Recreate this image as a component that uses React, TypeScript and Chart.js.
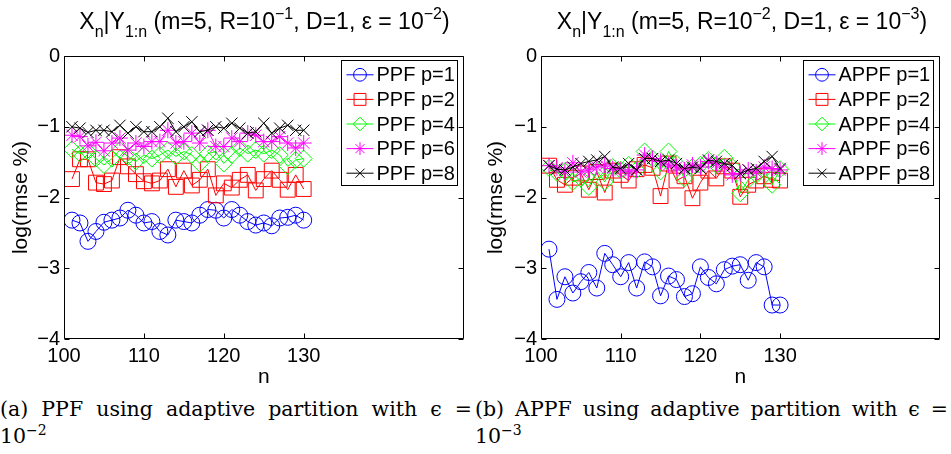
import React, { useEffect, useRef } from 'react';
import { Chart, registerables } from 'chart.js';
import { drawPoint } from 'chart.js/helpers';

Chart.register(...registerables);

// ---------------- data ----------------
const nValues = [101, 102, 103, 104, 105, 106, 107, 108, 109, 110, 111, 112, 113, 114, 115, 116, 117, 118, 119, 120, 121, 122, 123, 124, 125, 126, 127, 128, 129, 130];
const xTickValues = [100, 110, 120, 130];
const yTickValues = [0, -1, -2, -3, -4];
const pLabels = ['p=1', 'p=2', 'p=4', 'p=6', 'p=8'];

// (a) PPF, epsilon = 1e-2
const ppfP1 = [-2.32, -2.36, -2.62, -2.48, -2.35, -2.32, -2.29, -2.18, -2.25, -2.36, -2.34, -2.48, -2.53, -2.32, -2.34, -2.36, -2.25, -2.17, -2.18, -2.29, -2.17, -2.25, -2.34, -2.39, -2.36, -2.40, -2.29, -2.28, -2.25, -2.32];
const ppfP2 = [-1.74, -1.46, -1.46, -1.79, -1.81, -1.76, -1.43, -1.56, -1.67, -1.77, -1.80, -1.76, -1.60, -1.85, -1.62, -1.83, -1.75, -1.60, -1.97, -1.80, -1.86, -1.75, -1.68, -1.90, -1.74, -1.62, -1.75, -1.89, -1.68, -1.88];
const ppfP4 = [-1.32, -1.38, -1.35, -1.45, -1.54, -1.45, -1.33, -1.42, -1.49, -1.40, -1.45, -1.40, -1.33, -1.42, -1.35, -1.40, -1.52, -1.38, -1.35, -1.52, -1.40, -1.30, -1.38, -1.33, -1.38, -1.33, -1.40, -1.56, -1.47, -1.45];
const ppfP6 = [-1.12, -1.14, -1.27, -1.22, -1.34, -1.23, -1.16, -1.33, -1.23, -1.28, -1.21, -1.21, -1.05, -1.23, -1.21, -1.09, -1.23, -1.05, -1.28, -1.28, -1.16, -1.21, -1.09, -1.12, -1.21, -1.21, -1.14, -1.23, -1.30, -1.23];
const ppfP8 = [-1.00, -1.02, -1.08, -1.05, -1.05, -1.07, -0.98, -1.09, -1.00, -1.07, -1.07, -1.00, -0.88, -1.07, -1.00, -0.93, -1.07, -1.05, -1.00, -1.02, -0.95, -1.02, -1.09, -1.07, -0.95, -1.09, -1.02, -0.98, -1.05, -1.05];

// (b) APPF, epsilon = 1e-3
const appfP1 = [-2.73, -3.44, -3.12, -3.35, -3.19, -3.06, -3.28, -2.79, -2.95, -3.12, -2.92, -3.28, -2.91, -2.98, -3.39, -3.11, -3.16, -3.40, -3.36, -2.98, -3.13, -3.22, -3.02, -2.97, -2.95, -3.17, -2.92, -2.98, -3.52, -3.52];
const appfP2 = [-1.55, -1.75, -1.82, -1.72, -1.66, -1.89, -1.64, -1.93, -1.62, -1.68, -1.76, -1.60, -1.54, -1.58, -1.98, -1.52, -1.76, -1.70, -2.01, -1.79, -1.62, -1.73, -1.56, -1.62, -1.99, -1.82, -1.76, -1.70, -1.75, -1.76];
const appfP4 = [-1.58, -1.65, -1.63, -1.78, -1.73, -1.85, -1.62, -1.78, -1.57, -1.61, -1.54, -1.61, -1.35, -1.45, -1.63, -1.35, -1.52, -1.73, -1.57, -1.54, -1.47, -1.54, -1.44, -1.57, -1.94, -1.75, -1.68, -1.61, -1.82, -1.60];
const appfP6 = [-1.55, -1.58, -1.64, -1.51, -1.64, -1.61, -1.57, -1.54, -1.59, -1.61, -1.64, -1.61, -1.40, -1.45, -1.49, -1.54, -1.57, -1.61, -1.54, -1.57, -1.49, -1.52, -1.57, -1.68, -1.66, -1.61, -1.64, -1.57, -1.59, -1.61];
const appfP8 = [-1.55, -1.60, -1.61, -1.57, -1.52, -1.49, -1.47, -1.42, -1.57, -1.59, -1.52, -1.61, -1.45, -1.45, -1.49, -1.47, -1.52, -1.59, -1.57, -1.59, -1.47, -1.49, -1.52, -1.55, -1.66, -1.61, -1.59, -1.49, -1.42, -1.59];

// ---------------- styles ----------------
const seriesColors = ['#0000ff', '#ff0000', '#00ff00', '#ff00ff', '#000000'];
const markerStyles = ['circle', 'rect', 'rectRot', 'star', 'crossRot'];
const markerRadii = [8, 10.5, 8.5, 8, 8];
const SANS = '"Liberation Sans", Arial, Helvetica, sans-serif';
const SERIF = '"DejaVu Serif", "Liberation Serif", serif';

const fmtTick = (v: number) => (v < 0 ? '\u2212' + Math.abs(v) : String(v));

const framePlugin = {
  id: 'matlabFrame',
  afterDatasetsDraw(chart: any) {
    const { ctx, chartArea } = chart;
    const xs = chart.scales.x;
    const ys = chart.scales.y;
    const L = Math.round(chartArea.left) + 0.5;
    const R = Math.round(chartArea.right) - 0.5;
    const T = Math.round(chartArea.top) + 0.5;
    const B = Math.round(chartArea.bottom) - 0.5;
    ctx.save();
    ctx.strokeStyle = '#000';
    ctx.lineWidth = 1;
    ctx.beginPath();
    ctx.rect(L, T, R - L, B - T);
    const tl = 5;
    xTickValues.forEach((v) => {
      const px = Math.round(xs.getPixelForValue(v)) + 0.5;
      ctx.moveTo(px, B);
      ctx.lineTo(px, B - tl);
      ctx.moveTo(px, T);
      ctx.lineTo(px, T + tl);
    });
    yTickValues.forEach((v) => {
      const py = Math.round(ys.getPixelForValue(v)) + 0.5;
      ctx.moveTo(L, py);
      ctx.lineTo(L + tl, py);
      ctx.moveTo(R, py);
      ctx.lineTo(R - tl, py);
    });
    ctx.stroke();
    ctx.restore();
  },
};

const legendPlugin = {
  id: 'matlabLegend',
  afterDraw(chart: any) {
    const { ctx, chartArea } = chart;
    const ds = chart.data.datasets;
    ctx.save();
    ctx.font = `20px ${SANS}`;
    let maxW = 0;
    ds.forEach((d: any) => {
      maxW = Math.max(maxW, ctx.measureText(d.label).width);
    });
    const rowH = 24.6;
    const w = Math.round(35 + maxW + 3);
    const h = Math.round(rowH * ds.length + 2);
    const bx = Math.round(chartArea.right - 7 - w) + 0.5;
    const by = Math.round(chartArea.top + 4) + 0.5;
    ctx.fillStyle = '#fff';
    ctx.fillRect(bx, by, w, h);
    ctx.strokeStyle = '#000';
    ctx.lineWidth = 1;
    ctx.strokeRect(bx, by, w, h);
    ds.forEach((d: any, i: number) => {
      const cy = by + 2 + rowH * (i + 0.5);
      ctx.strokeStyle = d.borderColor;
      ctx.lineWidth = 1;
      ctx.beginPath();
      ctx.moveTo(bx + 5, cy);
      ctx.lineTo(bx + 32, cy);
      ctx.stroke();
      ctx.fillStyle = 'rgba(0,0,0,0)';
      ctx.strokeStyle = d.borderColor;
      drawPoint(ctx, { pointStyle: d.pointStyle, radius: d.pointRadius * 0.8, rotation: 0, borderWidth: 1 } as any, bx + 18.5, cy);
      ctx.fillStyle = '#000';
      ctx.textBaseline = 'middle';
      ctx.textAlign = 'left';
      ctx.fillText(d.label, bx + 35, cy + 1);
    });
    ctx.restore();
  },
};

type PanelProps = {
  left: number;
  width: number;
  prefix: string;
  series: number[][];
  yAxisWidth: number;
  padRight: number;
};

const CANVAS_H = 392;

function Panel({ left, width, prefix, series, yAxisWidth, padRight }: PanelProps) {
  const ref = useRef<HTMLCanvasElement | null>(null);
  useEffect(() => {
    if (!ref.current) return;
    const chart = new Chart(ref.current, {
      type: 'line',
      data: {
        datasets: series.map((vals, i) => ({
          label: `${prefix} ${pLabels[i]}`,
          data: nValues.map((n, k) => ({ x: n, y: vals[k] })),
          borderColor: seriesColors[i],
          backgroundColor: 'rgba(0,0,0,0)',
          borderWidth: 1,
          pointStyle: markerStyles[i] as any,
          pointRadius: markerRadii[i],
          pointBorderColor: seriesColors[i],
          pointBackgroundColor: 'rgba(0,0,0,0)',
          pointBorderWidth: 1,
          tension: 0,
          fill: false,
          order: series.length - 1 - i,
        })),
      },
      options: {
        animation: false,
        responsive: false,
        maintainAspectRatio: false,
        events: [],
        layout: { padding: { left: 0, right: padRight, top: 56, bottom: 0 } },
        plugins: { legend: { display: false }, tooltip: { enabled: false }, title: { display: false } },
        scales: {
          x: {
            type: 'linear',
            min: 100,
            max: 150,
            grid: { display: false, drawTicks: false },
            border: { display: false },
            afterBuildTicks: (s: any) => {
              s.ticks = xTickValues.map((v) => ({ value: v }));
            },
            afterFit: (s: any) => {
              s.height = CANVAS_H - 339;
            },
            ticks: {
              color: '#000',
              font: { family: SANS, size: 20 },
              padding: 5,
              maxRotation: 0,
              autoSkip: false,
              callback: (v: any) => String(v),
            },
            title: {
              display: true,
              text: 'n',
              color: '#000',
              font: { family: SANS, size: 21 },
              padding: { top: 0, bottom: 2 },
            },
          },
          y: {
            type: 'linear',
            min: -4,
            max: 0,
            grid: { display: false, drawTicks: false },
            border: { display: false },
            afterBuildTicks: (s: any) => {
              s.ticks = yTickValues.map((v) => ({ value: v }));
            },
            afterFit: (s: any) => {
              s.width = yAxisWidth;
            },
            ticks: {
              color: '#000',
              font: { family: SANS, size: 20 },
              padding: 4,
              autoSkip: false,
              callback: (v: any) => fmtTick(Number(v)),
            },
            title: {
              display: true,
              text: 'log(rmse %)',
              color: '#000',
              font: { family: SANS, size: 21 },
              padding: { top: 9, bottom: 0 },
            },
          },
        },
      },
      plugins: [framePlugin, legendPlugin],
    });
    return () => chart.destroy();
  }, []);
  return (
    <canvas
      ref={ref}
      width={width}
      height={CANVAS_H}
      style={{ position: 'absolute', left, top: 0, width, height: CANVAS_H }}
    />
  );
}

const subStyle: React.CSSProperties = { fontSize: 16, position: 'relative', top: 8, lineHeight: 0 };
const supStyle: React.CSSProperties = { fontSize: 16, position: 'relative', top: -10, lineHeight: 0 };

function Title({ left, width, r, eps }: { left: number; width: number; r: string; eps: string }) {
  return (
    <div
      style={{
        position: 'absolute',
        left,
        width,
        top: 10,
        textAlign: 'center',
        fontFamily: SANS,
        fontSize: 23,
        lineHeight: '23px',
        whiteSpace: 'nowrap',
        color: '#000',
      }}
    >
      X<span style={subStyle}>n</span>|Y<span style={subStyle}>1:n</span> (m=5, R=10
      <span style={supStyle}>{r}</span>, D=1, ε = 10<span style={supStyle}>{eps}</span>)
    </div>
  );
}

function Caption({ left, width, first, exp }: { left: number; width: number; first: string; exp: string }) {
  return (
    <div
      style={{
        position: 'absolute',
        left,
        width,
        top: 396,
        fontFamily: SERIF,
        fontSize: 20.5,
        lineHeight: '27px',
        color: '#000',
      }}
    >
      <div style={{ textAlign: 'justify', textAlignLast: 'justify', whiteSpace: 'nowrap' } as React.CSSProperties}>{first}</div>
      <div>
        10<span style={{ fontSize: 14, position: 'relative', top: -8, lineHeight: 0 }}>{exp}</span>
      </div>
    </div>
  );
}

export default function App() {
  return (
    <div style={{ position: 'absolute', left: 0, top: 0, width: 951, height: 454, background: '#fff', overflow: 'hidden' }}>
      <Panel left={0} width={475} prefix="PPF" series={[ppfP1, ppfP2, ppfP4, ppfP6, ppfP8]} yAxisWidth={64} padRight={10} />
      <Panel left={475} width={476} prefix="APPF" series={[appfP1, appfP2, appfP4, appfP6, appfP8]} yAxisWidth={66} padRight={8} />
      <Title left={64} width={401} r={'\u22121'} eps={'\u22122'} />
      <Title left={541} width={402} r={'\u22122'} eps={'\u22123'} />
      <Caption left={0} width={472} first="(a) PPF using adaptive partition with ϵ =" exp={'\u22122'} />
      <Caption left={475} width={473} first="(b) APPF using adaptive partition with ϵ =" exp={'\u22123'} />
    </div>
  );
}
